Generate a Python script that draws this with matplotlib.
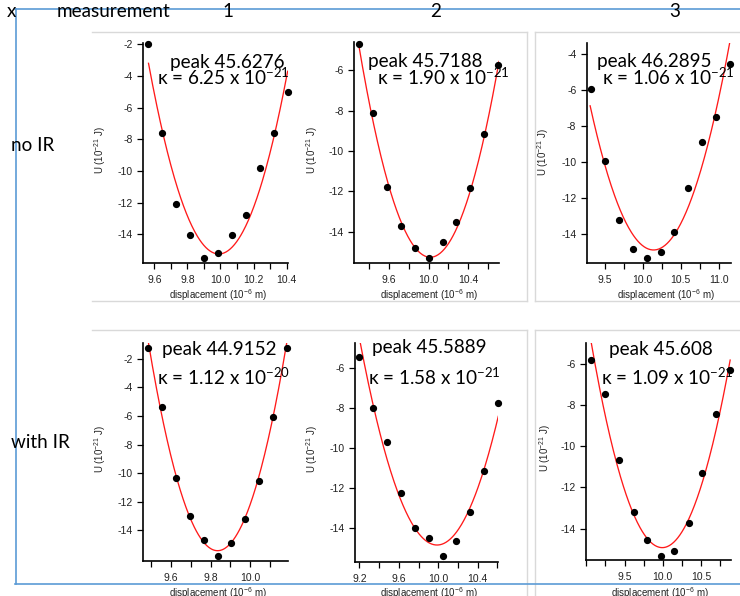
import numpy as np
import matplotlib
matplotlib.use('Agg')
import matplotlib.pyplot as plt
from matplotlib.ticker import MultipleLocator, FixedLocator, FuncFormatter
from matplotlib.lines import Line2D

plt.rcParams['axes.unicode_minus'] = False
plt.rcParams['mathtext.default'] = 'regular'

W, H = 740, 596

# ---------------- data ----------------
column_labels = ['1', '2', '3']
row_labels = ['no IR', 'with IR']
peaks = ['45.6276', '45.7188', '46.2895', '44.9152', '45.5889', '45.608']
kappa_mantissa = ['6.25', '1.90', '1.06', '1.12', '1.58', '1.09']
kappa_exponent = ['-21', '-21', '-21', '-20', '-21', '-21']

disp_1 = [9.564, 9.648, 9.732, 9.816, 9.901, 9.984, 10.069, 10.154, 10.236, 10.321, 10.406]
U_1 = [-1.98, -7.62, -12.09, -14.07, -15.50, -15.16, -14.05, -12.76, -9.83, -7.62, -5.03]

disp_2 = [9.301, 9.442, 9.584, 9.725, 9.867, 10.005, 10.143, 10.281, 10.422, 10.564, 10.705]
U_2 = [-4.68, -8.13, -11.79, -13.70, -14.79, -15.31, -14.51, -13.54, -11.85, -9.17, -5.72]

disp_3 = [9.325, 9.509, 9.689, 9.873, 10.052, 10.236, 10.415, 10.594, 10.778, 10.962, 11.146]
U_3 = [-5.96, -9.92, -13.21, -14.83, -15.31, -14.96, -13.86, -11.45, -8.88, -7.49, -4.54]

disp_4 = [9.485, 9.556, 9.625, 9.696, 9.767, 9.836, 9.905, 9.975, 10.046, 10.117, 10.187]
U_4 = [-1.25, -5.40, -10.32, -12.99, -14.67, -15.79, -14.86, -13.18, -10.52, -6.10, -1.25]

disp_5 = [9.200, 9.341, 9.483, 9.625, 9.764, 9.907, 10.046, 10.184, 10.326, 10.468, 10.610]
U_5 = [-5.47, -7.99, -9.72, -12.26, -14.00, -14.47, -15.38, -14.62, -13.19, -11.16, -7.76]

disp_6 = [9.064, 9.251, 9.431, 9.618, 9.793, 9.976, 10.154, 10.338, 10.517, 10.700, 10.883]
U_6 = [-5.84, -7.48, -10.68, -13.20, -14.56, -15.32, -15.06, -13.74, -11.28, -8.44, -6.29]

# parabolic fit parameters: U = y0 + k (x - x0)^2
fit_x0 = [9.990, 10.018, 10.143, 9.835, 9.988, 9.994]
fit_y0 = [-15.25, -15.27, -14.87, -15.42, -14.83, -14.92]
fit_k = [66.7, 20.16, 11.52, 119.3, 16.57, 11.51]
fit_xmin = [9.565, 9.291, 9.31, 9.485, 9.206, 9.064]
fit_xmax = [10.406, 10.712, 11.14, 10.185, 10.61, 10.883]

# tick labels per panel
xticks_1 = [9.6, 9.8, 10.0, 10.2, 10.4]
xticks_2 = [9.6, 10.0, 10.4]
xticks_3 = [9.5, 10.0, 10.5, 11.0]
xticks_4 = [9.6, 9.8, 10.0]
xticks_5 = [9.2, 9.6, 10.0, 10.4]
xticks_6 = [9.5, 10.0, 10.5]
yticks_1 = [-2, -4, -6, -8, -10, -12, -14]
yticks_2 = [-6, -8, -10, -12, -14]
yticks_3 = [-4, -6, -8, -10, -12, -14]
yticks_4 = [-2, -4, -6, -8, -10, -12, -14]
yticks_5 = [-6, -8, -10, -12, -14]
yticks_6 = [-6, -8, -10, -12, -14]

disps = [disp_1, disp_2, disp_3, disp_4, disp_5, disp_6]
Us = [U_1, U_2, U_3, U_4, U_5, U_6]
xticks_all = [xticks_1, xticks_2, xticks_3, xticks_4, xticks_5, xticks_6]
yticks_all = [yticks_1, yticks_2, yticks_3, yticks_4, yticks_5, yticks_6]

# ---------------- layout (pixels) ----------------
panels = [
    dict(box=(143.3, 288.3, 42.7, 263.0), xlim=(9.5335, 10.41), ylim=(-15.82, -1.90),
         xmin=0.1, ylab=(100, 150), xlab=(218, 295),
         peak=(170, 67.7), kap=(157, 85)),
    dict(box=(354.3, 499.0, 42.1, 263.3), xlim=(9.2505, 10.712), ylim=(-15.57, -4.60),
         xmin=0.2, ylab=(312, 150), xlab=(429, 295),
         peak=(368, 66.7), kap=(377, 84.3)),
    dict(box=(586.7, 731.0, 43.3, 262.7), xlim=(9.265, 11.159), ylim=(-15.575, -3.41),
         xmin=0.25, ylab=(543, 152), xlab=(666, 295),
         peak=(597, 66.7), kap=(602, 85)),
    dict(box=(143.3, 287.5, 342.7, 560.7), xlim=(9.460, 10.188), ylim=(-16.12, -0.88),
         xmin=0.1, ylab=(100, 449), xlab=(218, 593),
         peak=(162, 355), kap=(157, 385)),
    dict(box=(355.0, 498.5, 342.7, 562.3), xlim=(9.155, 10.612), ylim=(-15.69, -4.755),
         xmin=0.2, ylab=(312, 449), xlab=(429, 593),
         peak=(372, 353.3), kap=(368, 385)),
    dict(box=(586.0, 731.0, 342.7, 560.0), xlim=(8.996, 10.894), ylim=(-15.52, -4.98),
         xmin=0.25, ylab=(545, 448), xlab=(660, 593),
         peak=(609, 355), kap=(601, 385)),
]

BIG = ['Lato', 'DejaVu Sans']
SMALL = ['Liberation Sans', 'DejaVu Sans']
BIG_SIZE = 13.6
TICK_SIZE = 7.5
LAB_SIZE = 7.0
BLUE = '#5B9BD5'
GRAY = '#D9D9D9'

fig = plt.figure(figsize=(W / 100, H / 100), dpi=100)
fig.patch.set_facecolor('white')


def fx(px):
    return px / W


def fy(py):
    return 1 - py / H


def hline(x1, x2, y, color, lw):
    fig.add_artist(Line2D([fx(x1), fx(x2)], [fy(y), fy(y)], transform=fig.transFigure,
                          color=color, lw=lw, zorder=0))


def vline(x, y1, y2, color, lw):
    fig.add_artist(Line2D([fx(x), fx(x)], [fy(y1), fy(y2)], transform=fig.transFigure,
                          color=color, lw=lw, zorder=0))


# table cell borders (gray)
hline(92, 527, 31.5, GRAY, 1.0)
hline(535, 740, 31.5, GRAY, 1.0)
hline(92, 527, 301, GRAY, 1.0)
hline(535, 740, 301, GRAY, 1.0)
vline(527, 31.5, 301, GRAY, 1.0)
vline(535, 31.5, 301, GRAY, 1.0)
hline(92, 527, 330, GRAY, 1.0)
hline(535, 740, 330, GRAY, 1.0)
vline(527, 330, 596, GRAY, 1.0)
vline(535, 330, 596, GRAY, 1.0)

# blue outline
hline(15, 740, 8.5, BLUE, 1.2)
vline(15.5, 8.5, 583.5, BLUE, 1.2)
hline(15, 740, 583.5, BLUE, 1.2)

# header texts
fig.text(fx(7), fy(17), 'x', family=BIG, fontsize=BIG_SIZE, va='baseline', ha='left')
fig.text(fx(57), fy(17), 'measurement', family=BIG, fontsize=BIG_SIZE, va='baseline', ha='left')
for lab, cx in zip(column_labels, [228, 436, 675]):
    fig.text(fx(cx), fy(17), lab, family=BIG, fontsize=BIG_SIZE, va='baseline', ha='center')

fig.text(fx(11), fy(151), row_labels[0], family=BIG, fontsize=BIG_SIZE, va='baseline', ha='left')
fig.text(fx(11), fy(448), row_labels[1], family=BIG, fontsize=BIG_SIZE, va='baseline', ha='left')

xfmt = FuncFormatter(lambda v, p: f'{v:.1f}')
yfmt = FuncFormatter(lambda v, p: f'{int(round(v))}')

for i, pnl in enumerate(panels):
    l, r, t, b = pnl['box']
    ax = fig.add_axes([fx(l), fy(b), (r - l) / W, (b - t) / H])
    ax.set_facecolor('none')
    ax.set_xlim(*pnl['xlim'])
    ax.set_ylim(*pnl['ylim'])
    for s in ['top', 'right']:
        ax.spines[s].set_visible(False)
    for s in ['left', 'bottom']:
        ax.spines[s].set_linewidth(1.2)
        ax.spines[s].set_color('black')
    ax.xaxis.set_major_locator(FixedLocator(xticks_all[i]))
    ax.xaxis.set_minor_locator(MultipleLocator(pnl['xmin']))
    ax.yaxis.set_major_locator(FixedLocator(yticks_all[i]))
    ax.xaxis.set_major_formatter(xfmt)
    ax.yaxis.set_major_formatter(yfmt)
    ax.tick_params(axis='both', which='major', direction='out', length=4.5, width=0.9,
                   labelsize=TICK_SIZE, labelcolor='#222222', color='black')
    ax.tick_params(axis='x', which='major', pad=4)
    ax.tick_params(axis='y', which='major', pad=3)
    ax.tick_params(axis='x', which='minor', direction='out', length=4.0, width=0.9, color='black')
    for lbl in ax.get_xticklabels() + ax.get_yticklabels():
        lbl.set_family(SMALL)

    xs = np.linspace(fit_xmin[i], fit_xmax[i], 200)
    ys = fit_y0[i] + fit_k[i] * (xs - fit_x0[i]) ** 2
    ax.plot(xs, ys, color='#ff1a1a', lw=0.95, zorder=2, clip_on=True)
    ax.plot(disps[i], Us[i], 'o', color='black', ms=4.2, zorder=3, clip_on=False)

    fig.text(fx(pnl['ylab'][0]), fy(pnl['ylab'][1]), 'U (10$^{-21}$ J)', rotation=90,
             family=SMALL, fontsize=LAB_SIZE, color='#222222', ha='center', va='center')
    fig.text(fx(pnl['xlab'][0]), fy(pnl['xlab'][1]), 'displacement (10$^{-6}$ m)',
             family=SMALL, fontsize=LAB_SIZE, color='#222222', ha='center', va='center')

    fig.text(fx(pnl['peak'][0]), fy(pnl['peak'][1]), f'peak {peaks[i]}', family=BIG,
             fontsize=BIG_SIZE, ha='left', va='baseline')
    fig.text(fx(pnl['kap'][0]), fy(pnl['kap'][1]),
             f'\u03ba = {kappa_mantissa[i]} x 10$^{{{kappa_exponent[i]}}}$', family=BIG,
             fontsize=BIG_SIZE, ha='left', va='baseline')

fig.savefig('out.png', dpi=100, facecolor='white')
